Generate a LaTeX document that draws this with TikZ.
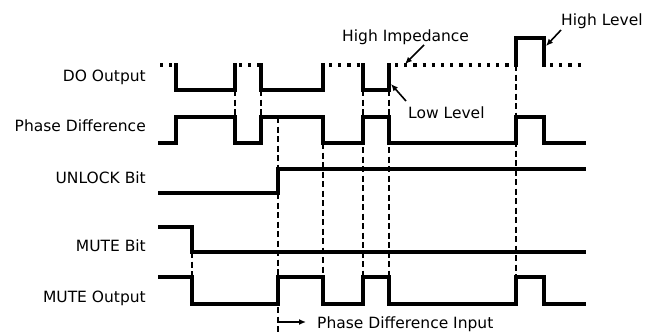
\documentclass[tikz,border=0pt]{standalone}
\usepackage{fontspec}
\setmainfont{DejaVu Sans}
\usetikzlibrary{arrows.meta}
\tikzset{
  wave/.style={line width=3.4pt, line join=miter, line cap=rect},
  hiz/.style={line width=3.4pt, dash pattern=on 3.2pt off 6pt},
  guide/.style={line width=1.6pt, dash pattern=on 6pt off 3.5pt},
  lbl/.style={font=\fontsize{15.5}{18}\selectfont, inner sep=0pt},
  ann/.style={line width=1.6pt, -{Latex[length=7pt,width=6pt]}}
}
\begin{document}
\begin{tikzpicture}[x=1pt,y=-1pt]
\useasboundingbox (0,0) rectangle (646,335);
% signal labels
\node[lbl, anchor=base east] (ldo) at (146,81) {DO Output};
\node[lbl, anchor=base east] (lpd) at (146,131) {Phase Difference};
\node[lbl, anchor=base east] (lun) at (146,183) {UNLOCK Bit};
\node[lbl, anchor=base east] (lmb) at (146,251) {MUTE Bit};
\node[lbl, anchor=base east] (lmo) at (146,302) {MUTE Output};
% guide lines
\draw[guide] (192,252) -- (192,277);
\draw[guide] (235,90) -- (235,117);
\draw[guide] (261,90) -- (261,117);
\draw[guide] (278,117) -- (278,335);
\draw[guide] (323,143) -- (323,277);
\draw[guide] (363,90) -- (363,277);
\draw[guide] (389,90) -- (389,277);
\draw[guide] (516,65) -- (516,277);
% DO output
\draw[hiz] (160,65) -- (176,65);
\draw[hiz,dash phase=-1pt] (238,65) -- (261,65);
\draw[hiz,dash phase=-2pt] (327,65) -- (363,65);
\draw[hiz,dash phase=-2pt] (393,65) -- (516,65);
\draw[hiz,dash phase=-2pt] (548,65) -- (586,65);
\draw[wave] (176,65) -- (176,90) -- (235,90) -- (235,65);
\draw[wave] (261,65) -- (261,90) -- (323,90) -- (323,65);
\draw[wave] (363,65) -- (363,90) -- (389,90) -- (389,65);
\draw[wave] (516,65) -- (516,38) -- (544,38) -- (544,65);
% Phase difference
\draw[wave] (160,143) -- (176,143) -- (176,117) -- (235,117) -- (235,143) -- (261,143) -- (261,117) -- (323,117) -- (323,143) -- (363,143) -- (363,117) -- (389,117) -- (389,143) -- (516,143) -- (516,117) -- (544,117) -- (544,143) -- (584,143);
% UNLOCK bit
\draw[wave] (160,193) -- (278,193) -- (278,169) -- (584,169);
% MUTE bit
\draw[wave] (160,227) -- (192,227) -- (192,252) -- (584,252);
% MUTE output
\draw[wave] (160,277) -- (192,277) -- (192,304) -- (278,304) -- (278,277) -- (323,277) -- (323,304) -- (363,304) -- (363,277) -- (389,277) -- (389,304) -- (516,304) -- (516,277) -- (544,277) -- (544,304) -- (584,304);
% annotations
\node[lbl, anchor=base west] (thi) at (342,41) {High Impedance};
\node[lbl, anchor=base west] (tlo) at (408,118) {Low Level};
\node[lbl, anchor=base west] (thl) at (561,25) {High Level};
\node[lbl, anchor=base west] (tpd) at (317,328) {Phase Difference Input};
\coordinate (hiA) at (424,45);
\coordinate (hiB) at (405,64);
\coordinate (loA) at (406,101);
\coordinate (loB) at (391,84);
\coordinate (hlA) at (561,30);
\coordinate (hlB) at (546,46);
\coordinate (pdA) at (279,322);
\coordinate (pdB) at (306,322);
\draw[ann] (hiA) -- (hiB);
\draw[ann] (loA) -- (loB);
\draw[ann] (hlA) -- (hlB);
\draw[ann] (pdA) -- (pdB);
\end{tikzpicture}
\end{document}
